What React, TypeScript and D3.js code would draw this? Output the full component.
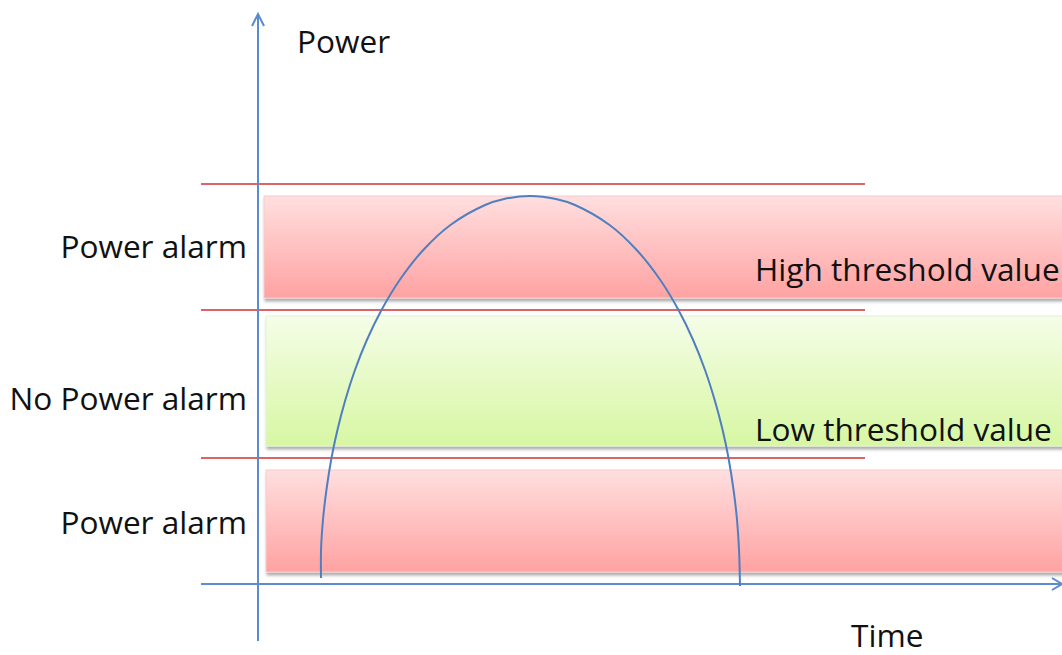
import React from "react";
import * as d3 from "d3";

// Power over time (arbitrary units)
const timeValues = [
  7.84, 7.84, 8.08, 8.51, 9.14, 9.88, 10.86, 12.06, 13.54, 15.36, 17.62, 20.56, 23.93, 28.25, 30.6,
  33.83,
  37.06, 39.42, 43.73, 47.1, 50.04, 52.3, 54.12, 55.6, 56.8, 57.79, 58.52, 59.15, 59.58, 59.83, 59.95,
];
const powerValues = [
  1.5, 8.5, 16, 23.5, 31.5, 38.5, 46, 53.5, 61, 68.5, 76, 83.5, 89.75, 94.75, 96.25,
  97,
  96.25, 94.75, 89.75, 83.5, 76, 68.5, 61, 53.5, 46, 38.5, 31.5, 23.5, 16, 8.5, -0.5,
];

// Reference lines (power units): ceiling, high threshold, low threshold
const thresholdLevels = [100, 68.5, 31.5];

// Alarm zones (power units)
const zoneLabels = ["Power alarm", "No Power alarm", "Power alarm"];
const zoneTops = [97, 67, 28.5];
const zoneBottoms = [71.5, 34.5, 3];
const zoneKinds = ["alarm", "ok", "alarm"];

const thresholdLabels = ["High threshold value", "Low threshold value"];
const thresholdLabelLevels = [68.5, 31.5];

const W = 1062;
const H = 655;
const axisX = 258;
const axisY = 584;

const FONT = "'Open Sans', 'Noto Sans', sans-serif";
const FONT_SIZE = 31.6;
const AXIS_COLOR = "#5b8bd0";
const LINE_COLOR = "#dc6464";

// baseline offsets of the zone labels relative to the zone centre
const zoneLabelShift = [11, 29, 13];
// baseline offsets of the threshold labels relative to their line
const thresholdLabelShift = [-29, -17];

export default function App() {
  const x = d3.scaleLinear().domain([0, 100]).range([axisX, 1062]);
  const y = d3.scaleLinear().domain([0, 100]).range([axisY, 184]);

  const points = timeValues.map((t, i) => [t, powerValues[i]] as [number, number]);
  const line = d3
    .line<[number, number]>()
    .x((d) => x(d[0]))
    .y((d) => y(d[1]))
    .curve(d3.curveCatmullRom.alpha(0.5));

  return (
    <svg
      width={W}
      height={H}
      style={{ position: "absolute", left: 0, top: 0, background: "#fff" }}
      fontFamily={FONT}
    >
      <defs>
        <linearGradient id="alarmFill" x1="0" y1="0" x2="0" y2="1">
          <stop offset="0" stopColor="#ffdfdf" />
          <stop offset="1" stopColor="#ffa2a2" />
        </linearGradient>
        <linearGradient id="okFill" x1="0" y1="0" x2="0" y2="1">
          <stop offset="0" stopColor="#f5fde8" />
          <stop offset="1" stopColor="#d7f7a3" />
        </linearGradient>
        <filter id="zoneShadow" x="-5%" y="-20%" width="115%" height="150%">
          <feDropShadow dx="1" dy="3" stdDeviation="1.8" floodColor="#000" floodOpacity="0.32" />
        </filter>
      </defs>

      {/* threshold reference lines */}
      {thresholdLevels.map((v, i) => (
        <line
          key={"th" + i}
          x1={201}
          x2={865}
          y1={y(v)}
          y2={y(v)}
          stroke={LINE_COLOR}
          strokeWidth={2}
        />
      ))}

      {/* alarm zones */}
      {zoneTops.map((top, i) => (
        <rect
          key={"zone" + i}
          x={axisX + (i === 0 ? 6 : 8)}
          y={y(top)}
          width={W + 20 - axisX}
          height={y(zoneBottoms[i]) - y(top)}
          fill={zoneKinds[i] === "alarm" ? "url(#alarmFill)" : "url(#okFill)"}
          stroke={zoneKinds[i] === "alarm" ? "#f6cccc" : "#e4f2d2"}
          strokeWidth={1}
          filter="url(#zoneShadow)"
        />
      ))}

      {/* zone labels */}
      {zoneLabels.map((label, i) => (
        <text
          key={"zl" + i}
          x={247}
          y={(y(zoneTops[i]) + y(zoneBottoms[i])) / 2 + zoneLabelShift[i]}
          textAnchor="end"
          fontSize={FONT_SIZE}
          fill="#111"
        >
          {label}
        </text>
      ))}

      {/* threshold labels */}
      {thresholdLabels.map((label, i) => (
        <text
          key={"tl" + i}
          x={755}
          y={y(thresholdLabelLevels[i]) + thresholdLabelShift[i]}
          fontSize={FONT_SIZE}
          fill="#111"
        >
          {label}
        </text>
      ))}

      {/* axes */}
      <line x1={axisX} x2={axisX} y1={641} y2={14} stroke={AXIS_COLOR} strokeWidth={2} />
      <polyline
        points={`${axisX - 6},26 ${axisX},14 ${axisX + 6},26`}
        fill="none"
        stroke={AXIS_COLOR}
        strokeWidth={2}
      />
      <line x1={201} x2={1062} y1={axisY} y2={axisY} stroke={AXIS_COLOR} strokeWidth={2} />
      <polyline
        points={`1052,${axisY - 6} 1062,${axisY} 1052,${axisY + 6}`}
        fill="none"
        stroke={AXIS_COLOR}
        strokeWidth={2}
      />

      {/* power curve */}
      <path d={line(points) ?? ""} fill="none" stroke="#4f7fc0" strokeWidth={2} />

      {/* axis titles */}
      <text x={297} y={53} fontSize={FONT_SIZE} fill="#111">Power</text>
      <text x={851} y={647} fontSize={FONT_SIZE} fill="#111">Time</text>
    </svg>
  );
}
